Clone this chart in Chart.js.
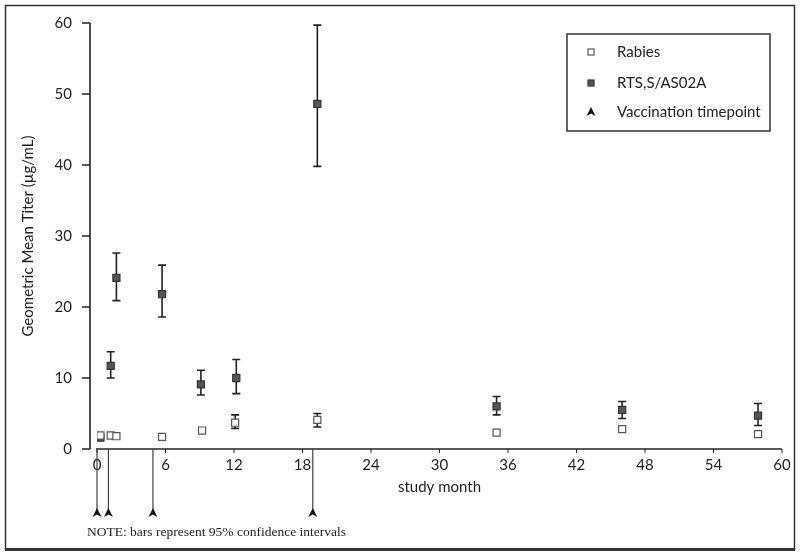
<!DOCTYPE html>
<html><head><meta charset="utf-8">
<script src="https://cdn.jsdelivr.net/npm/chart.js@4.4.1/dist/chart.umd.min.js"></script>
<style>html,body{margin:0;padding:0;background:#fff}#wrap{width:800px;height:554px}</style>
</head><body><div id="wrap"><canvas id="c" width="800" height="554"></canvas></div>
<script>
// ---- data ----
const rtsMonths = [0.3, 1.2, 1.7, 5.7, 9.1, 12.2, 19.3, 35.0, 46.0, 57.9];
const rtsGMT    = [1.6, 11.7, 24.1, 21.8, 9.1, 10.0, 48.6, 6.0, 5.5, 4.7];
const rtsLow    = [null, 10.0, 20.9, 18.6, 7.6, 7.8, 39.8, 4.8, 4.3, 3.3];
const rtsHigh   = [null, 13.7, 27.6, 25.9, 11.1, 12.6, 59.7, 7.4, 6.7, 6.4];

const rabiesMonths = [0.3, 1.2, 1.7, 5.7, 9.2, 12.1, 19.3, 35.0, 46.0, 57.9];
const rabiesGMT    = [1.9, 1.9, 1.8, 1.7, 2.6, 3.7, 4.1, 2.3, 2.8, 2.1];
const rabiesLow    = [null, null, null, null, null, 2.9, 3.1, null, null, null];
const rabiesHigh   = [null, null, null, null, null, 4.8, 5.0, null, null, null];

const vaccinationMonths = [0, 1, 4.9, 18.9];

const legendLabels = ['Rabies', 'RTS,S/AS02A', 'Vaccination timepoint'];
const xTitle = 'study month';
const yTitle = 'Geometric Mean Titer (\u00b5g/mL)';
const noteText = 'NOTE: bars represent 95% confidence intervals';

const SANS = 'Lato, "Open Sans", sans-serif';
const SERIF = '"Liberation Serif", "Times New Roman", serif';

function pts(xs, ys){ return xs.map((x,i)=>({x:x, y:ys[i]})); }

function arrowHead(ctx, x, tipY){
  ctx.beginPath();
  ctx.moveTo(x, tipY);
  ctx.lineTo(x + 4.5, tipY + 9);
  ctx.lineTo(x, tipY + 6.5);
  ctx.lineTo(x - 4.5, tipY + 9);
  ctx.closePath();
  ctx.fill();
}

const decor = {
  id: 'decor',
  beforeDatasetsDraw(chart){
    const ctx = chart.ctx, xs = chart.scales.x, ys = chart.scales.y;
    ctx.save();
    ctx.strokeStyle = '#222';
    ctx.lineWidth = 1.6;
    const drawBars = (months, lo, hi) => {
      months.forEach((m,i)=>{
        if (lo[i] == null || hi[i] == null) return;
        const x = xs.getPixelForValue(m);
        const y1 = ys.getPixelForValue(lo[i]);
        const y2 = ys.getPixelForValue(hi[i]);
        ctx.beginPath();
        ctx.moveTo(x, y1); ctx.lineTo(x, y2);
        ctx.moveTo(x-4, y1); ctx.lineTo(x+4, y1);
        ctx.moveTo(x-4, y2); ctx.lineTo(x+4, y2);
        ctx.stroke();
      });
    };
    drawBars(rabiesMonths, rabiesLow, rabiesHigh);
    drawBars(rtsMonths, rtsLow, rtsHigh);
    ctx.restore();
  },
  afterDraw(chart){
    const ctx = chart.ctx, xs = chart.scales.x, ys = chart.scales.y;
    const ca = chart.chartArea;
    ctx.save();
    // axes
    ctx.strokeStyle = '#222';
    ctx.lineWidth = 1.6;
    const yAxisX = ca.left - 7;
    ctx.beginPath();
    ctx.moveTo(yAxisX, ys.getPixelForValue(60));
    ctx.lineTo(yAxisX, ys.getPixelForValue(0));
    ys.ticks.forEach(t=>{
      const y = ys.getPixelForValue(t.value);
      ctx.moveTo(yAxisX - 8, y); ctx.lineTo(yAxisX, y);
    });
    ctx.stroke();
    ctx.beginPath();
    const axY = ys.getPixelForValue(0);
    ctx.moveTo(xs.getPixelForValue(0) - 1, axY);
    ctx.lineTo(xs.getPixelForValue(60), axY);
    ctx.stroke();
    ctx.lineWidth = 1;
    ctx.beginPath();
    xs.ticks.forEach(t=>{
      const x = xs.getPixelForValue(t.value);
      ctx.moveTo(x, axY); ctx.lineTo(x, axY + 4);
    });
    ctx.stroke();
    // vaccination arrows
    ctx.strokeStyle = '#444';
    ctx.fillStyle = '#111';
    ctx.lineWidth = 1.2;
    const tipY = 508;
    vaccinationMonths.forEach(m=>{
      const x = xs.getPixelForValue(m);
      ctx.beginPath();
      ctx.moveTo(x, axY); ctx.lineTo(x, tipY + 3);
      ctx.stroke();
      arrowHead(ctx, x, tipY);
    });
    // note
    ctx.fillStyle = '#222';
    ctx.font = '13.5px ' + SERIF;
    ctx.textBaseline = 'middle';
    ctx.textAlign = 'left';
    ctx.fillText(noteText, 87, 532);
    // legend
    ctx.strokeStyle = '#333';
    ctx.lineWidth = 1.5;
    ctx.strokeRect(567, 34, 203, 97);
    const lx = 591, rows = [52, 83, 112];
    ctx.lineWidth = 1.2;
    ctx.strokeStyle = '#555';
    ctx.fillStyle = '#fff';
    ctx.fillRect(lx-3, rows[0]-3, 6, 6);
    ctx.strokeRect(lx-3, rows[0]-3, 6, 6);
    ctx.fillStyle = '#555';
    ctx.strokeStyle = '#333';
    ctx.fillRect(lx-3, rows[1]-3, 6, 6);
    ctx.strokeRect(lx-3, rows[1]-3, 6, 6);
    ctx.fillStyle = '#111';
    arrowHead(ctx, lx, rows[2]-5);
    ctx.fillStyle = '#222';
    ctx.font = '15px ' + SANS;
    legendLabels.forEach((l,i)=> ctx.fillText(l, 617, rows[i]));
    // outer frame
    ctx.strokeStyle = '#333';
    ctx.lineWidth = 1.5;
    ctx.strokeRect(5.5, 5.5, 789, 544);
    ctx.fillStyle = '#333';
    ctx.fillRect(5, 548, 790, 3);
    ctx.restore();
  }
};

new Chart(document.getElementById('c'), {
  type: 'scatter',
  data: {
    datasets: [
      { label: legendLabels[0], data: pts(rabiesMonths, rabiesGMT),
        pointStyle: 'rect', pointRadius: 5, pointHoverRadius: 5,
        backgroundColor: '#fff', borderColor: '#555', borderWidth: 1.2 },
      { label: legendLabels[1], data: pts(rtsMonths, rtsGMT),
        pointStyle: 'rect', pointRadius: 5, pointHoverRadius: 5,
        backgroundColor: '#555', borderColor: '#333', borderWidth: 1.2 }
    ]
  },
  options: {
    responsive: false,
    animation: false,
    devicePixelRatio: 1,
    layout: { padding: { left: 0, top: 23, right: 18, bottom: 0 } },
    plugins: { legend: { display: false }, tooltip: { enabled: false } },
    scales: {
      x: {
        type: 'linear', min: 0, max: 60,
        ticks: { stepSize: 6, padding: 7, color: '#222', font: { family: SANS, size: 15 } },
        grid: { display: false, drawTicks: false },
        border: { display: false },
        title: { display: true, text: xTitle, color: '#222', font: { family: SANS, size: 15 }, padding: { top: 0, bottom: 58 } },
        afterFit(s){ s.height = 105; }
      },
      y: {
        type: 'linear', min: 0, max: 60,
        ticks: { stepSize: 10, padding: 25, color: '#222', font: { family: SANS, size: 15 } },
        grid: { display: false, drawTicks: false },
        border: { display: false },
        title: { display: true, text: yTitle, color: '#222', font: { family: SANS, size: 15 }, padding: { top: 19, bottom: 0 } },
        afterFit(s){ s.width = 97; s.paddingTop = 0; s.paddingBottom = 0; }
      }
    }
  },
  plugins: [decor]
});
</script>
</body></html>
